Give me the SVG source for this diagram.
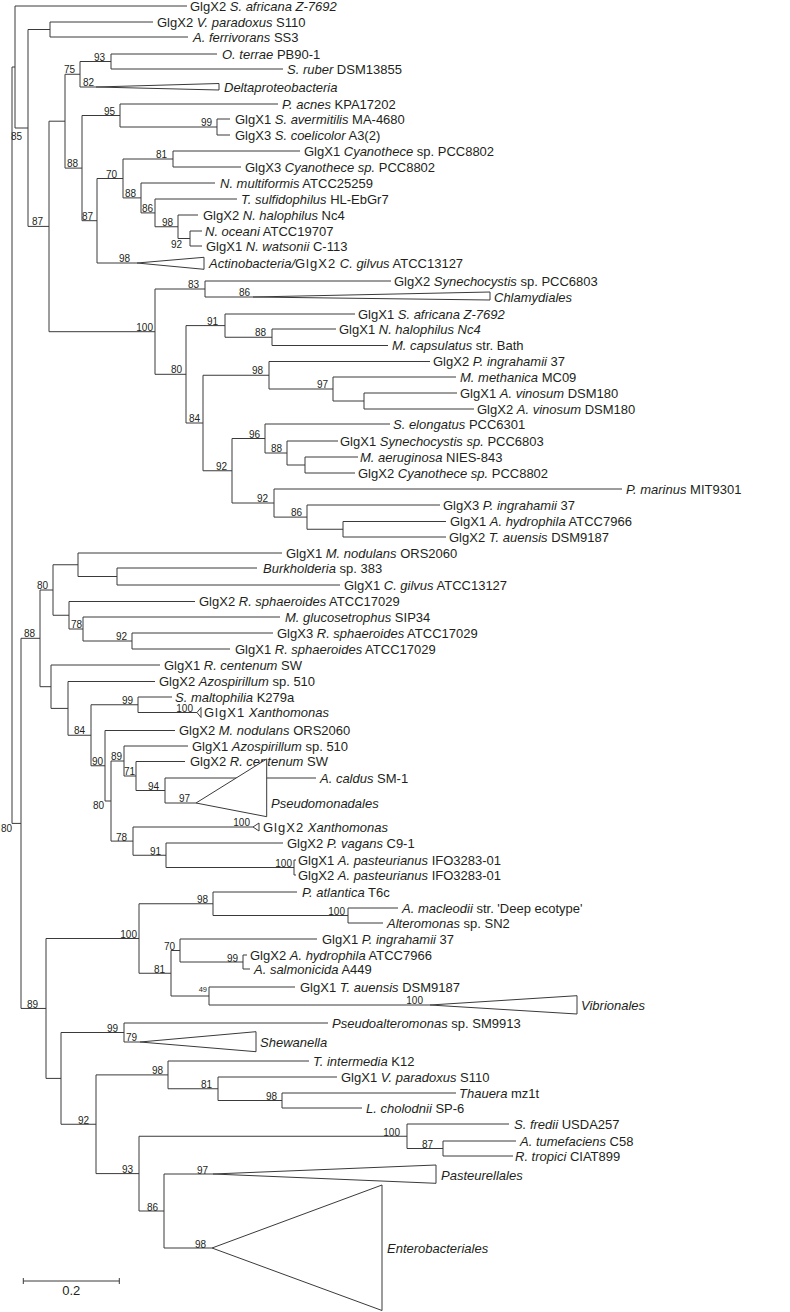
<svg xmlns="http://www.w3.org/2000/svg" width="790" height="1312" viewBox="0 0 790 1312">
<style>
.t{font-family:"Liberation Sans",Arial,sans-serif;font-size:13px;fill:#231f20}
.i{font-style:italic}
.sp{letter-spacing:1px}
.b{font-family:"Liberation Sans",Arial,sans-serif;font-size:10px;fill:#231f20;text-anchor:end}
.bs{font-size:7.5px}
.br{fill:none;stroke:#3a3a3a;stroke-width:1}
.tri{fill:#fff;stroke:#3a3a3a;stroke-width:1}
</style>
<rect width="790" height="1312" fill="#fff"/>
<g id="connectors" class="br">
<path d="M12,67V823.4M12,67H15M12,823.4H21"/>
<path d="M15,6V128M15,6H187M15,128H28"/>
<path d="M28,29.5V226.4M28,29.5H50M28,226.4H49"/>
<path d="M50,22V37M50,22H153M50,37H188"/>
<path d="M49,121.2V331.7M49,121.2H65M49,331.7H155"/>
<path d="M65,74.25V168.1M65,74.25H80M65,168.1H82"/>
<path d="M80,61.5V87M80,61.5H111M80,87H96"/>
<path d="M111,54V69M111,54H217M111,69H283"/>
<path d="M82,115.5V220.7M82,115.5H120M82,220.7H97"/>
<path d="M120,104V127M120,104H278M120,127H217"/>
<path d="M217,119V135M217,119H230M217,135H230"/>
<path d="M97,178.5V263M97,178.5H123M97,263H137"/>
<path d="M123,159V197.9M123,159H173M123,197.9H141"/>
<path d="M173,151V167M173,151H300M173,167H241"/>
<path d="M141,183V212.9M141,183H215M141,212.9H155"/>
<path d="M155,199V226.75M155,199H237M155,226.75H178"/>
<path d="M178,215V238.5M178,215H198M178,238.5H190"/>
<path d="M190,231V246M190,231H202M190,246H202"/>
<path d="M155,289V374.3M155,289H205M155,374.3H186"/>
<path d="M205,281V297M205,281H391M205,297H253"/>
<path d="M186,325.6V423M186,325.6H225M186,423H203"/>
<path d="M225,314V337.25M225,314H355M225,337.25H272"/>
<path d="M272,329V345.5M272,329H336M272,345.5H388"/>
<path d="M203,375.25V470.75M203,375.25H269M203,470.75H232"/>
<path d="M269,361.5V389M269,361.5H430M269,389H333"/>
<path d="M333,377V401M333,377H456M333,401H364"/>
<path d="M364,393V409M364,393H457M364,409H474"/>
<path d="M232,438.5V503M232,438.5H265M232,503H274"/>
<path d="M265,424V453M265,424H390M265,453H287"/>
<path d="M287,441V465M287,441H338M287,465H305"/>
<path d="M305,457V473M305,457H358M305,473H355"/>
<path d="M274,489V517.1M274,489H622M274,517.1H307"/>
<path d="M307,505V529.25M307,505H440M307,529.25H343"/>
<path d="M343,521.5V537M343,521.5H446M343,537H446"/>
<path d="M21,638.3V1008.45M21,638.3H40M21,1008.45H46"/>
<path d="M40,590V686.7M40,590H53M40,686.7H51"/>
<path d="M53,564.75V615.25M53,564.75H78M53,615.25H69"/>
<path d="M78,553V576.5M78,553H282M78,576.5H117"/>
<path d="M117,568V585M117,568H257M117,585H340"/>
<path d="M69,601.5V629M69,601.5H195M69,629H83"/>
<path d="M83,617V641M83,617H280M83,641H132"/>
<path d="M132,633V649M132,633H273M132,649H230"/>
<path d="M51,665V708.4M51,665H160M51,708.4H68"/>
<path d="M68,681.5V735.25M68,681.5H155M68,735.25H91"/>
<path d="M91,704.75V765.75M91,704.75H138M91,765.75H105"/>
<path d="M138,697V712.5M138,697H172M138,712.5H197"/>
<path d="M105,730.5V801M105,730.5H175M105,801H111"/>
<path d="M111,761V841.1M111,761H124M111,841.1H133"/>
<path d="M124,746V776M124,746H188M124,776H136"/>
<path d="M136,761.5V790.5M136,761.5H185M136,790.5H165"/>
<path d="M165,778V803M165,778H316M165,803H196"/>
<path d="M133,827V855.25M133,827H253M133,855.25H166"/>
<path d="M166,843V867.5M166,843H283M166,867.5H294"/>
<path d="M294,860V875M294,860H296M294,875H296"/>
<path d="M46,938.5V1078.4M46,938.5H139M46,1078.4H61"/>
<path d="M139,903.75V973.25M139,903.75H213M139,973.25H171"/>
<path d="M213,892V915.5M213,892H297M213,915.5H348"/>
<path d="M348,908V923M348,908H398M348,923H383"/>
<path d="M171,950.5V996M171,950.5H180M171,996H209"/>
<path d="M180,939V962M180,939H317M180,962H243"/>
<path d="M243,955V969M243,955H247M243,969H250"/>
<path d="M209,987V1005M209,987H295M209,1005H430"/>
<path d="M61,1032.5V1124.25M61,1032.5H124M61,1124.25H96"/>
<path d="M124,1023V1042M124,1023H328M124,1042H140"/>
<path d="M96,1074.9V1173.6M96,1074.9H168M96,1173.6H139"/>
<path d="M168,1061V1088.75M168,1061H309M168,1088.75H218"/>
<path d="M218,1077V1100.5M218,1077H337M218,1100.5H282"/>
<path d="M282,1093V1108M282,1093H456M282,1108H362"/>
<path d="M139,1136.25V1211M139,1136.25H407M139,1211H164"/>
<path d="M407,1124V1148.5M407,1124H509M407,1148.5H443"/>
<path d="M443,1141V1156M443,1141H516M443,1156H513"/>
<path d="M164,1174V1248M164,1174H213M164,1248H212"/>
</g>
<g id="leaf-01"><text class="t" x="190" y="10.5">GlgX2 <tspan class="i">S. africana Z-7692</tspan></text></g>
<g id="leaf-02"><text class="t" x="157" y="26.5">GlgX2 <tspan class="i">V. paradoxus</tspan> S110</text></g>
<g id="leaf-03"><text class="t" x="193" y="41.5"><tspan class="i">A. ferrivorans</tspan> SS3</text></g>
<g id="leaf-04"><text class="t" x="222" y="58.5"><tspan class="i">O. terrae</tspan> PB90-1</text></g>
<g id="leaf-05"><text class="t" x="287" y="73.5"><tspan class="i">S. ruber</tspan> DSM13855</text></g>
<g id="clade-delta"><polygon class="tri" points="96,87 219,83.5 219,90"/><text class="t i" x="224" y="91.5">Deltaproteobacteria</text></g>
<g id="leaf-07"><text class="t" x="282" y="108.5"><tspan class="i">P. acnes</tspan> KPA17202</text></g>
<g id="leaf-08"><text class="t" x="235" y="123.5">GlgX1 <tspan class="i">S. avermitilis</tspan> MA-4680</text></g>
<g id="leaf-09"><text class="t" x="235" y="139.5">GlgX3 <tspan class="i">S. coelicolor</tspan> A3(2)</text></g>
<g id="leaf-10"><text class="t" x="304" y="155.5">GlgX1 <tspan class="i">Cyanothece</tspan> sp. PCC8802</text></g>
<g id="leaf-11"><text class="t" x="245" y="171.5">GlgX3 <tspan class="i">Cyanothece sp.</tspan> PCC8802</text></g>
<g id="leaf-12"><text class="t" x="220" y="187.5"><tspan class="i">N. multiformis</tspan> ATCC25259</text></g>
<g id="leaf-13"><text class="t" x="241" y="203.5"><tspan class="i">T. sulfidophilus</tspan> HL-EbGr7</text></g>
<g id="leaf-14"><text class="t" x="203" y="219.5">GlgX2 <tspan class="i">N. halophilus</tspan> Nc4</text></g>
<g id="leaf-15"><text class="t" x="205" y="235.5"><tspan class="i">N. oceani</tspan> ATCC19707</text></g>
<g id="leaf-16"><text class="t" x="206" y="250.5">GlgX1 <tspan class="i">N. watsonii</tspan> C-113</text></g>
<g id="clade-actino"><polygon class="tri" points="137,263 204,257.3 204,269.3"/><text class="t" x="209" y="267.5"><tspan class="i">Actinobacteria/</tspan><tspan class="sp">GlgX2</tspan> <tspan class="i">C. gilvus</tspan> ATCC13127</text></g>
<g id="leaf-18"><text class="t" x="394" y="285.5">GlgX2 <tspan class="i">Synechocystis</tspan> sp. PCC6803</text></g>
<g id="clade-chlam"><polygon class="tri" points="253,297 490,292 490,300"/><text class="t i" x="494" y="301.5">Chlamydiales</text></g>
<g id="leaf-20"><text class="t" x="358" y="318.5">GlgX1 <tspan class="i">S. africana Z-7692</tspan></text></g>
<g id="leaf-21"><text class="t" x="339" y="333.5">GlgX1 <tspan class="i">N. halophilus Nc4</tspan></text></g>
<g id="leaf-22"><text class="t" x="392" y="350"><tspan class="i">M. capsulatus</tspan> str. Bath</text></g>
<g id="leaf-23"><text class="t" x="433" y="366">GlgX2 <tspan class="i">P. ingrahamii</tspan> 37</text></g>
<g id="leaf-24"><text class="t" x="460" y="381.5"><tspan class="i">M. methanica</tspan> MC09</text></g>
<g id="leaf-25"><text class="t" x="460" y="397.5">GlgX1 <tspan class="i">A. vinosum</tspan> DSM180</text></g>
<g id="leaf-26"><text class="t" x="477" y="413.5">GlgX2 <tspan class="i">A. vinosum</tspan> DSM180</text></g>
<g id="leaf-27"><text class="t" x="393" y="428.5"><tspan class="i">S. elongatus</tspan> PCC6301</text></g>
<g id="leaf-28"><text class="t" x="340" y="445.5">GlgX1 <tspan class="i">Synechocystis sp.</tspan> PCC6803</text></g>
<g id="leaf-29"><text class="t" x="360" y="461.5"><tspan class="i">M. aeruginosa</tspan> NIES-843</text></g>
<g id="leaf-30"><text class="t" x="358" y="477.5">GlgX2 <tspan class="i">Cyanothece sp.</tspan> PCC8802</text></g>
<g id="leaf-31"><text class="t" x="626" y="493.5"><tspan class="i">P. marinus</tspan> MIT9301</text></g>
<g id="leaf-32"><text class="t" x="443" y="509.5">GlgX3 <tspan class="i">P. ingrahamii</tspan> 37</text></g>
<g id="leaf-33"><text class="t" x="450" y="526">GlgX1 <tspan class="i">A. hydrophila</tspan> ATCC7966</text></g>
<g id="leaf-34"><text class="t" x="449" y="541.5">GlgX2 <tspan class="i">T. auensis</tspan> DSM9187</text></g>
<g id="leaf-35"><text class="t" x="286" y="557.5">GlgX1 <tspan class="i">M. nodulans</tspan> ORS2060</text></g>
<g id="leaf-36"><text class="t" x="263" y="572.5"><tspan class="i">Burkholderia</tspan> sp. 383</text></g>
<g id="leaf-37"><text class="t" x="344" y="589.5">GlgX1 <tspan class="i">C. gilvus</tspan> ATCC13127</text></g>
<g id="leaf-38"><text class="t" x="199" y="606">GlgX2 <tspan class="i">R. sphaeroides</tspan> ATCC17029</text></g>
<g id="leaf-39"><text class="t" x="285" y="621.5"><tspan class="i">M. glucosetrophus</tspan> SIP34</text></g>
<g id="leaf-40"><text class="t" x="277" y="637.5">GlgX3 <tspan class="i">R. sphaeroides</tspan> ATCC17029</text></g>
<g id="leaf-41"><text class="t" x="235" y="653.5">GlgX1 <tspan class="i">R. sphaeroides</tspan> ATCC17029</text></g>
<g id="leaf-42"><text class="t" x="164" y="669.5">GlgX1 <tspan class="i">R. centenum</tspan> SW</text></g>
<g id="leaf-43"><text class="t" x="159" y="686">GlgX2 <tspan class="i">Azospirillum</tspan> sp. 510</text></g>
<g id="leaf-44"><text class="t" x="175" y="701.5"><tspan class="i">S. maltophilia</tspan> K279a</text></g>
<g id="clade-xanth1"><polygon class="tri" points="197,712.5 201,707.5 201,717.5"/><text class="t" x="204" y="717"><tspan class="sp">GlgX1</tspan> <tspan class="i">Xanthomonas</tspan></text></g>
<g id="leaf-46"><text class="t" x="179" y="735">GlgX2 <tspan class="i">M. nodulans</tspan> ORS2060</text></g>
<g id="leaf-47"><text class="t" x="192" y="750.5">GlgX1 <tspan class="i">Azospirillum</tspan> sp. 510</text></g>
<g id="leaf-48"><text class="t" x="190" y="766">GlgX2 <tspan class="i">R. centenum</tspan> SW</text></g>
<g id="leaf-49"><text class="t" x="320" y="782.5"><tspan class="i">A. caldus</tspan> SM-1</text></g>
<g id="clade-pseudomonadales"><polygon class="tri" points="196,803 266.7,759 266.7,816.7"/><text class="t i" x="271" y="807.5">Pseudomonadales</text></g>
<g id="clade-xanth2"><polygon class="tri" points="253,827 259,823 259,831"/><text class="t" x="263" y="831.5"><tspan class="sp">GlgX2</tspan> <tspan class="i">Xanthomonas</tspan></text></g>
<g id="leaf-52"><text class="t" x="287" y="847.5">GlgX2 <tspan class="i">P. vagans</tspan> C9-1</text></g>
<g id="leaf-53"><text class="t" x="298" y="864.5">GlgX1 <tspan class="i">A. pasteurianus</tspan> IFO3283-01</text></g>
<g id="leaf-54"><text class="t" x="298" y="879.5">GlgX2 <tspan class="i">A. pasteurianus</tspan> IFO3283-01</text></g>
<g id="leaf-55"><text class="t" x="302" y="896.5"><tspan class="i">P. atlantica</tspan> T6c</text></g>
<g id="leaf-56"><text class="t" x="402" y="912.5"><tspan class="i">A. macleodii</tspan> str. 'Deep ecotype'</text></g>
<g id="leaf-57"><text class="t" x="387" y="927.5"><tspan class="i">Alteromonas</tspan> sp. SN2</text></g>
<g id="leaf-58"><text class="t" x="322" y="943.5">GlgX1 <tspan class="i">P. ingrahamii</tspan> 37</text></g>
<g id="leaf-59"><text class="t" x="250" y="959.5">GlgX2 <tspan class="i">A. hydrophila</tspan> ATCC7966</text></g>
<g id="leaf-60"><text class="t" x="254" y="973.5"><tspan class="i">A. salmonicida</tspan> A449</text></g>
<g id="leaf-61"><text class="t" x="300" y="991.5">GlgX1 <tspan class="i">T. auensis</tspan> DSM9187</text></g>
<g id="clade-vibrionales"><polygon class="tri" points="430,1005 577,995.7 577,1014"/><text class="t i" x="581" y="1010">Vibrionales</text></g>
<g id="leaf-63"><text class="t" x="332" y="1027.5"><tspan class="i">Pseudoalteromonas</tspan> sp. SM9913</text></g>
<g id="clade-shewanella"><polygon class="tri" points="140,1042 256,1031.7 256,1051.7"/><text class="t i" x="260" y="1046.5">Shewanella</text></g>
<g id="leaf-65"><text class="t" x="313" y="1065.5"><tspan class="i">T. intermedia</tspan> K12</text></g>
<g id="leaf-66"><text class="t" x="341" y="1081.5">GlgX1 <tspan class="i">V. paradoxus</tspan> S110</text></g>
<g id="leaf-67"><text class="t" x="459" y="1097.5"><tspan class="i">Thauera</tspan> mz1t</text></g>
<g id="leaf-68"><text class="t" x="366" y="1112.5"><tspan class="i">L. cholodnii</tspan> SP-6</text></g>
<g id="leaf-69"><text class="t" x="514" y="1128.5"><tspan class="i">S. fredii</tspan> USDA257</text></g>
<g id="leaf-70"><text class="t" x="520" y="1145.5"><tspan class="i">A. tumefaciens</tspan> C58</text></g>
<g id="leaf-71"><text class="t" x="515" y="1160.5"><tspan class="i">R. tropici</tspan> CIAT899</text></g>
<g id="clade-pasteurellales"><polygon class="tri" points="213,1174 436,1165 436,1183.3"/><text class="t i" x="441" y="1179.5">Pasteurellales</text></g>
<g id="clade-enterobacteriales"><polygon class="tri" points="212,1248 382,1185 382,1310.5"/><text class="t i" x="387" y="1252.5">Enterobacteriales</text></g>
<g id="bootstrap">
<text class="b" x="22" y="140">85</text>
<text class="b" x="43" y="225">87</text>
<text class="b" x="105" y="60.5">93</text>
<text class="b" x="75" y="73">75</text>
<text class="b" x="94" y="86">82</text>
<text class="b" x="78" y="167">88</text>
<text class="b" x="115" y="114.5">95</text>
<text class="b" x="212" y="126">99</text>
<text class="b" x="167" y="158">81</text>
<text class="b" x="117" y="177.5">70</text>
<text class="b" x="136" y="197">88</text>
<text class="b" x="153" y="212">86</text>
<text class="b" x="173" y="226">98</text>
<text class="b" x="182" y="248">92</text>
<text class="b" x="93" y="220">87</text>
<text class="b" x="130" y="262">98</text>
<text class="b" x="153" y="330.5">100</text>
<text class="b" x="199" y="288">83</text>
<text class="b" x="250" y="296">86</text>
<text class="b" x="182" y="373">80</text>
<text class="b" x="218" y="324.5">91</text>
<text class="b" x="266" y="336">88</text>
<text class="b" x="200" y="422">84</text>
<text class="b" x="263" y="374">98</text>
<text class="b" x="328" y="388">97</text>
<text class="b" x="260" y="437.5">96</text>
<text class="b" x="282" y="452">88</text>
<text class="b" x="227" y="470">92</text>
<text class="b" x="268" y="502">92</text>
<text class="b" x="302" y="516">86</text>
<text class="b" x="48" y="589">80</text>
<text class="b" x="82" y="628">78</text>
<text class="b" x="127" y="640">92</text>
<text class="b" x="35" y="637">88</text>
<text class="b" x="12" y="832">80</text>
<text class="b" x="133" y="704">99</text>
<text class="b" x="193" y="712">100</text>
<text class="b" x="85" y="734">84</text>
<text class="b" x="103" y="765">90</text>
<text class="b" x="122" y="760">89</text>
<text class="b" x="104" y="809">80</text>
<text class="b" x="135" y="775">71</text>
<text class="b" x="159" y="789.5">94</text>
<text class="b" x="190" y="802">97</text>
<text class="b" x="250" y="826">100</text>
<text class="b" x="127" y="840.5">78</text>
<text class="b" x="161" y="854.5">91</text>
<text class="b" x="292" y="866.5">100</text>
<text class="b" x="38" y="1007.5">89</text>
<text class="b" x="137" y="937.5">100</text>
<text class="b" x="208" y="903">98</text>
<text class="b" x="345" y="914.5">100</text>
<text class="b" x="175" y="950">70</text>
<text class="b" x="165" y="972.5">81</text>
<text class="b" x="238" y="961.5">99</text>
<text class="b bs" x="207" y="992">49</text>
<text class="b" x="423" y="1004">100</text>
<text class="b" x="118" y="1031.5">99</text>
<text class="b" x="137" y="1041">79</text>
<text class="b" x="89" y="1123.5">92</text>
<text class="b" x="163" y="1074">98</text>
<text class="b" x="212" y="1088">81</text>
<text class="b" x="277" y="1100">98</text>
<text class="b" x="133" y="1173">93</text>
<text class="b" x="400" y="1135.5">100</text>
<text class="b" x="433" y="1148">87</text>
<text class="b" x="158" y="1210.5">86</text>
<text class="b" x="208" y="1173.5">97</text>
<text class="b" x="206" y="1247.5">98</text>
</g>
<g id="scale-bar">
<path class="br" d="M23.3,1281H119.3M23.3,1278V1284M119.3,1278V1284"/>
<text class="t" x="71.3" y="1295" text-anchor="middle">0.2</text>
</g>
</svg>
